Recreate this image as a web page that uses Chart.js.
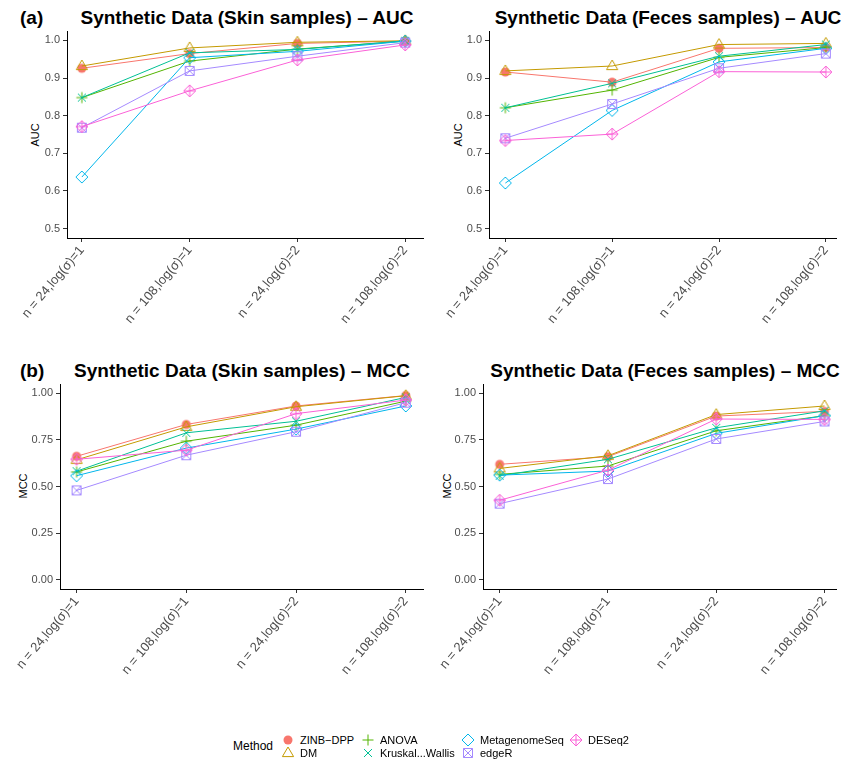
<!DOCTYPE html>
<html>
<head>
<meta charset="utf-8">
<script src="https://cdn.jsdelivr.net/npm/chart.js@4.4.1/dist/chart.umd.min.js"></script>
<style>
  body { margin: 0; background: #fff; font-family: "Liberation Sans", Arial, sans-serif; }
  #page { position: relative; width: 843px; height: 759px; overflow: hidden; background: #fff; }
  .box { position: absolute; }
  .ttl { position: absolute; font-weight: bold; font-size: 19px; line-height: 19px; white-space: nowrap; transform: translateX(-50%); color: #000; }
  .tag { position: absolute; font-weight: bold; font-size: 19px; line-height: 19px; color: #000; }
  .ytl { position: absolute; font-size: 11px; line-height: 11px; white-space: nowrap; transform: translate(-50%, -50%) rotate(-90deg); color: #000; }
  .leg { position: absolute; font-size: 11px; line-height: 12px; white-space: nowrap; color: #000; }
  .legk { position: absolute; }
</style>
</head>
<body>
<div id="page">
  <div class="tag" style="left:20px; top:8px;">(a)</div>
  <div class="ttl" style="left:247px; top:8px;">Synthetic Data (Skin samples) – AUC</div>
  <div class="ttl" style="left:668px; top:8px;">Synthetic Data (Feces samples) – AUC</div>
  <div class="tag" style="left:20px; top:361px;">(b)</div>
  <div class="ttl" style="left:242px; top:361px;">Synthetic Data (Skin samples) – MCC</div>
  <div class="ttl" style="left:665px; top:361px;">Synthetic Data (Feces samples) – MCC</div>

  <div class="ytl" style="left:35px; top:135px;">AUC</div>
  <div class="ytl" style="left:458px; top:135px;">AUC</div>
  <div class="ytl" style="left:23px; top:486px;">MCC</div>
  <div class="ytl" style="left:447px; top:486px;">MCC</div>

  <div class="box" style="left:0px; top:20px;"><canvas id="skinAucChart" width="430" height="330"></canvas></div>
  <div class="box" style="left:420px; top:20px;"><canvas id="fecesAucChart" width="423" height="330"></canvas></div>
  <div class="box" style="left:0px; top:370px;"><canvas id="skinMccChart" width="430" height="340"></canvas></div>
  <div class="box" style="left:420px; top:370px;"><canvas id="fecesMccChart" width="423" height="340"></canvas></div>

  <div class="leg" style="left:233px; top:739px; font-size:12px; line-height:14px;">Method</div>
  <div id="legend"></div>
</div>

<script>
'use strict'

const conditions = ['n = 24,log(σ)=1', 'n = 108,log(σ)=1', 'n = 24,log(σ)=2', 'n = 108,log(σ)=2'];
const methods = ['ZINB−DPP', 'DM', 'ANOVA', 'Kruskal...Wallis', 'MetagenomeSeq', 'edgeR', 'DESeq2'];
const colors = ['#F8766D', '#C49A00', '#53B400', '#00C094', '#00B6EB', '#A58AFF', '#FB61D7'];
const shapes = ['circle', 'triangle', 'plus', 'cross', 'diamond', 'squareX', 'diamondPlus'];

const aucTicks = [0.5, 0.6, 0.7, 0.8, 0.9, 1.0];
const mccTicks = [0, 0.25, 0.5, 0.75, 1.0];

// one row per method, same order as methods
const skinAuc = [
    [0.926, 0.965, 0.992, 0.998],
    [0.932, 0.980, 0.995, 0.999],
    [0.848, 0.945, 0.977, 0.998],
    [0.848, 0.967, 0.976, 0.999],
    [0.637, 0.954, 0.971, 0.998],
    [0.768, 0.919, 0.958, 0.994],
    [0.771, 0.866, 0.948, 0.988]
];
const fecesAuc = [
    [0.916, 0.889, 0.979, 0.981],
    [0.919, 0.932, 0.989, 0.992],
    [0.821, 0.868, 0.955, 0.981],
    [0.821, 0.886, 0.958, 0.989],
    [0.621, 0.814, 0.943, 0.979],
    [0.740, 0.831, 0.926, 0.965],
    [0.734, 0.751, 0.917, 0.916]
];
const skinMcc = [
    [0.662, 0.833, 0.932, 0.988],
    [0.643, 0.820, 0.928, 0.987],
    [0.578, 0.743, 0.829, 0.958],
    [0.582, 0.788, 0.850, 0.978],
    [0.558, 0.706, 0.808, 0.932],
    [0.479, 0.668, 0.794, 0.950],
    [0.646, 0.695, 0.891, 0.964]
];
const fecesMcc = [
    [0.619, 0.660, 0.878, 0.903],
    [0.597, 0.665, 0.886, 0.932],
    [0.565, 0.610, 0.799, 0.880],
    [0.558, 0.646, 0.815, 0.906],
    [0.561, 0.583, 0.785, 0.880],
    [0.408, 0.540, 0.755, 0.849],
    [0.426, 0.588, 0.862, 0.860]
];

// draw a ggplot-like point symbol into a small canvas
function marker(shape, color) {
    const c = document.createElement('canvas');
    c.width = 16;
    c.height = 16;
    const g = c.getContext('2d');
    g.strokeStyle = color;
    g.fillStyle = color;
    g.lineWidth = 1;
    g.translate(8, 8);
    g.beginPath();
    if (shape === 'circle') {
        g.arc(0, 0, 4.5, 0, Math.PI * 2);
        g.fill();
    } else if (shape === 'triangle') {
        g.moveTo(0, -6);
        g.lineTo(5.6, 3.6);
        g.lineTo(-5.6, 3.6);
        g.closePath();
        g.stroke();
    } else if (shape === 'plus') {
        g.moveTo(-5.5, 0); g.lineTo(5.5, 0);
        g.moveTo(0, -5.5); g.lineTo(0, 5.5);
        g.stroke();
    } else if (shape === 'cross') {
        g.moveTo(-4, -4); g.lineTo(4, 4);
        g.moveTo(4, -4); g.lineTo(-4, 4);
        g.stroke();
    } else if (shape === 'diamond') {
        g.moveTo(0, -6); g.lineTo(6, 0); g.lineTo(0, 6); g.lineTo(-6, 0);
        g.closePath();
        g.stroke();
    } else if (shape === 'squareX') {
        g.rect(-4.5, -4.5, 9, 9);
        g.moveTo(-4.5, -4.5); g.lineTo(4.5, 4.5);
        g.moveTo(4.5, -4.5); g.lineTo(-4.5, 4.5);
        g.stroke();
    } else if (shape === 'diamondPlus') {
        g.moveTo(0, -6); g.lineTo(6, 0); g.lineTo(0, 6); g.lineTo(-6, 0);
        g.closePath();
        g.moveTo(-6, 0); g.lineTo(6, 0);
        g.moveTo(0, -6); g.lineTo(0, 6);
        g.stroke();
    }
    return c;
}

const tickFont = { family: '"Liberation Sans", Arial, sans-serif', size: 11 };
const xTickFont = { family: '"Liberation Sans", Arial, sans-serif', size: 13 };

function drawPanel(id, values, yTicks, digits, xRange, yRange, yWidth, xHeight, pad) {
    const ctx = document.getElementById(id).getContext('2d');
    return new Chart(ctx, {
        type: 'line',
        data: {
            datasets: methods.map((m, i) => ({
                label: m,
                data: values[i].map((v, j) => ({ x: j, y: v })),
                borderColor: colors[i],
                backgroundColor: colors[i],
                borderWidth: 1,
                pointStyle: marker(shapes[i], colors[i]),
                pointRadius: 6,
                order: methods.length - i,
                clip: false
            }))
        },
        options: {
            responsive: false,
            animation: false,
            events: [],
            layout: { padding: pad },
            plugins: { legend: { display: false }, tooltip: { enabled: false } },
            scales: {
                x: {
                    type: 'linear',
                    min: xRange[0],
                    max: xRange[1],
                    afterBuildTicks: s => { s.ticks = conditions.map((c, j) => ({ value: j })); },
                    afterFit: s => { s.height = xHeight; },
                    ticks: {
                        callback: v => conditions[v],
                        autoSkip: false,
                        minRotation: 50,
                        maxRotation: 50,
                        color: '#4D4D4D',
                        font: xTickFont,
                        padding: 1
                    },
                    grid: { drawOnChartArea: false, tickLength: 4, color: '#333' },
                    border: { color: '#000', width: 1 }
                },
                y: {
                    min: yRange[0],
                    max: yRange[1],
                    afterBuildTicks: s => { s.ticks = yTicks.map(v => ({ value: v })); },
                    afterFit: s => { s.width = yWidth; },
                    ticks: {
                        callback: v => v.toFixed(digits),
                        color: '#4D4D4D',
                        font: tickFont,
                        padding: 3
                    },
                    grid: { drawOnChartArea: false, tickLength: 4, color: '#333' },
                    border: { color: '#000', width: 1 }
                }
            }
        }
    });
}

drawPanel('skinAucChart', skinAuc, aucTicks, 1, [-0.138, 3.165], [0.475, 1.025], 67, 112, { top: 11, right: 3 });
drawPanel('fecesAucChart', fecesAuc, aucTicks, 1, [-0.153, 3.095], [0.475, 1.025], 69, 112, { top: 11, right: 0 });
drawPanel('skinMccChart', skinMcc, mccTicks, 2, [-0.151, 3.157], [-0.05, 1.05], 60, 121, { top: 14, right: 5 });
drawPanel('fecesMccChart', fecesMcc, mccTicks, 2, [-0.154, 3.106], [-0.05, 1.05], 63, 121, { top: 14, right: 0 });

// legend at the bottom
const legend = document.getElementById('legend');
const legCols = [288, 368, 468, 576];
const legRows = [740, 753];
methods.forEach((m, i) => {
    const cx = legCols[Math.floor(i / 2)];
    const cy = legRows[i % 2];
    const k = marker(shapes[i], colors[i]);
    k.className = 'legk';
    k.style.left = (cx - 8) + 'px';
    k.style.top = (cy - 8) + 'px';
    legend.appendChild(k);
    const t = document.createElement('div');
    t.className = 'leg';
    t.textContent = m;
    t.style.left = (cx + 12) + 'px';
    t.style.top = (cy - 6) + 'px';
    legend.appendChild(t);
});
</script>
</body>
</html>
